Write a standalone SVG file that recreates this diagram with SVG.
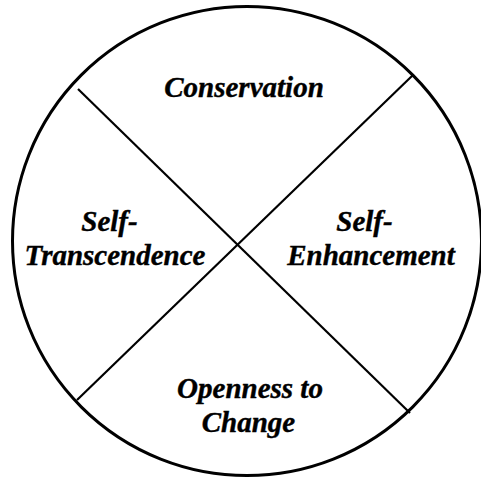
<svg xmlns="http://www.w3.org/2000/svg" width="481" height="479" viewBox="0 0 481 479">
<style>
.lbl{font-family:"Liberation Serif","Times New Roman",serif;font-weight:bold;font-style:italic;font-size:29px;fill:#000;stroke:#000;stroke-width:0.4;text-anchor:middle}
.div{stroke:#000;stroke-width:2.2;fill:none}
</style>
<rect width="481" height="479" fill="#fff"/>
<g id="circle"><circle cx="247" cy="241" r="234.5" fill="none" stroke="#000" stroke-width="3"/></g>
<g id="connectors">
<line class="div" x1="78" y1="89" x2="410" y2="413"/>
<line class="div" x1="413" y1="75" x2="77" y2="400"/>
</g>
<g id="conservation"><text class="lbl" x="244" y="97">Conservation</text></g>
<g id="self-transcendence"><text class="lbl" x="109.5" y="231">Self-</text><text class="lbl" x="115" y="265">Transcendence</text></g>
<g id="self-enhancement"><text class="lbl" x="364.5" y="231">Self-</text><text class="lbl" x="371" y="265">Enhancement</text></g>
<g id="openness"><text class="lbl" x="250" y="398">Openness to</text><text class="lbl" x="248.5" y="432">Change</text></g>
</svg>
